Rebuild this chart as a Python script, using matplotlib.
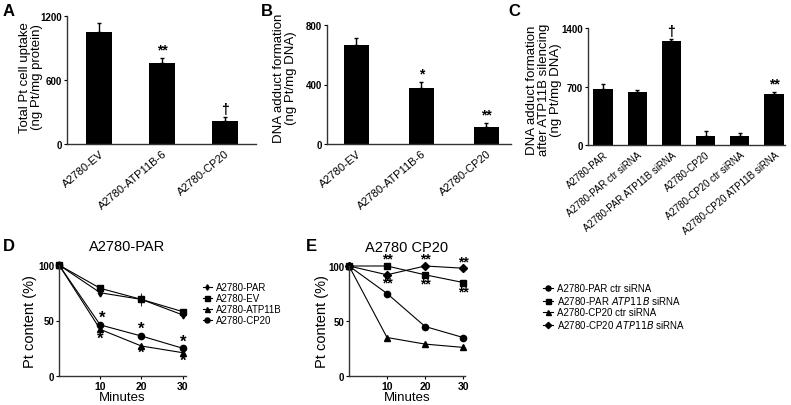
import matplotlib
matplotlib.use("Agg")
import matplotlib.pyplot as plt
import numpy as np

plt.rcParams["font.family"] = ["Liberation Sans", "DejaVu Sans"]

W, H = 791, 406

# panel A
a_labels = ["A2780-EV", "A2780-ATP11B-6", "A2780-CP20"]
a_vals = [1050, 760, 215]
a_err = [80, 46, 38]
a_marks = ["", "**", "\u2020"]

# panel B
b_labels = ["A2780-EV", "A2780-ATP11B-6", "A2780-CP20"]
b_vals = [665, 376, 114]
b_err = [47, 41, 27]
b_marks = ["", "*", "**"]

# panel C
c_labels = ["A2780-PAR", "A2780-PAR ctr siRNA", "A2780-PAR ATP11B siRNA",
            "A2780-CP20", "A2780-CP20 ctr siRNA", "A2780-CP20 ATP11B siRNA"]
c_vals = [670, 634, 1244, 108, 108, 610]
c_err = [60, 24, 24, 60, 36, 24]
c_marks = ["", "", "\u2020", "", "", "**"]

# panel D
minutes = [0, 10, 20, 30]
d_names = ["A2780-PAR", "A2780-EV", "A2780-ATP11B", "A2780-CP20"]
d_par = [100, 75, 69, 55]
d_ev = [100, 79, 69, 58]
d_atp = [100, 42, 27, 21]
d_cp20 = [100, 46, 36, 25]
d_star_x = [10.5, 10, 20, 20, 30, 30]
d_star_y = [53, 34, 43, 21, 31, 14]

# panel E
e_names = ["A2780-PAR ctr siRNA", "A2780-PAR $\\it{ATP11B}$ siRNA",
           "A2780-CP20 ctr siRNA", "A2780-CP20 $\\it{ATP11B}$ siRNA"]
e_par_ctr = [100, 75, 45, 35]
e_par_si = [100, 100, 92, 85]
e_cp_ctr = [100, 35, 29, 26]
e_cp_si = [100, 92, 100, 98]
e_star_x = [10, 10, 20, 20, 30, 30]
e_star_y = [107, 85, 107, 84, 104, 77]


def box(l, r, t, b):
    return [l / W, (H - b) / H, (r - l) / W, (b - t) / H]


def style(ax):
    for s in ["top", "right"]:
        ax.spines[s].set_visible(False)
    for s in ["left", "bottom"]:
        ax.spines[s].set_linewidth(1.0)
        ax.spines[s].set_color("#333333")
    ax.tick_params(axis="y", labelsize=7, length=2.5, width=0.8, pad=1)
    for t in ax.get_yticklabels():
        t.set_fontweight("bold")


def bars(ax, labels, vals, err, marks, ymax, step, xlim, width, rot_size, ylabel, lpos, lsize):
    x = np.arange(len(vals))
    ax.bar(x, vals, width=width, color="black")
    ax.errorbar(x, vals, yerr=[np.zeros(len(err)), err], fmt="none",
                ecolor="black", elinewidth=1, capsize=1.5, capthick=1)
    for xi, v, e, m in zip(x, vals, err, marks):
        if m:
            ax.text(xi, v + e + ymax * 0.01, m, ha="center", va="bottom",
                    fontsize=10, fontweight="bold")
    ax.set_xlim(*xlim)
    ax.set_ylim(0, ymax)
    ax.set_yticks(np.arange(0, ymax + 1, step))
    ax.set_xticks(x)
    ax.set_xticklabels(labels, rotation=40, ha="right", rotation_mode="anchor",
                       fontsize=rot_size)
    ax.tick_params(axis="x", length=0, pad=3)
    ax.set_ylabel(ylabel, fontsize=lsize, linespacing=1.0)
    ax.yaxis.set_label_coords(*lpos)
    style(ax)


fig = plt.figure(figsize=(W / 100, H / 100), dpi=100)

axA = fig.add_axes(box(67, 256, 17, 145))
bars(axA, a_labels, a_vals, a_err, a_marks, 1200, 600, (-0.51, 2.49), 0.41, 8,
     "Total Pt cell uptake\n(ng Pt/mg protein)", (-0.125, 0.53), 9.5)

axB = fig.add_axes(box(327, 511, 26, 145))
bars(axB, b_labels, b_vals, b_err, b_marks, 800, 400, (-0.45, 2.38), 0.38, 8,
     "DNA adduct formation\n(ng Pt/mg DNA)", (-0.165, 0.56), 9.5)

axC = fig.add_axes(box(588, 785, 29, 146))
bars(axC, c_labels, c_vals, c_err, c_marks, 1400, 700, (-0.44, 5.32), 0.56, 7,
     "DNA adduct formation\nafter ATP11B silencing\n(ng Pt/mg DNA)", (-0.13, 0.48), 9.5)

lw = 0.8
axD = fig.add_axes(box(59, 186, 266, 377))
axD.plot(minutes, d_par, marker="d", ms=3.5, color="black", lw=lw, label=d_names[0], clip_on=False)
axD.plot(minutes, d_ev, marker="s", ms=4.5, color="black", lw=lw, label=d_names[1], clip_on=False)
axD.plot(minutes, d_atp, marker="^", ms=4.5, color="black", lw=lw, label=d_names[2], clip_on=False)
axD.plot(minutes, d_cp20, marker="o", ms=4.5, color="black", lw=lw, label=d_names[3], clip_on=False)
axD.errorbar(minutes[1:3], [d_par[1], d_par[2]], yerr=[3, 6], fmt="none",
             ecolor="black", elinewidth=0.6, capsize=0)
for sx, sy in zip(d_star_x, d_star_y):
    axD.text(sx, sy, "*", ha="center", va="center", fontsize=12, fontweight="bold")
axD.set_title("A2780-PAR", fontsize=10.5, pad=11, x=0.54)

axE = fig.add_axes(box(349, 465, 267, 377))
axE.plot(minutes, e_par_ctr, marker="o", ms=4.5, color="black", lw=lw, label=e_names[0], clip_on=False)
axE.plot(minutes, e_par_si, marker="s", ms=4.5, color="black", lw=lw, label=e_names[1], clip_on=False)
axE.plot(minutes, e_cp_ctr, marker="^", ms=4.5, color="black", lw=lw, label=e_names[2], clip_on=False)
axE.plot(minutes, e_cp_si, marker="D", ms=4, color="black", lw=lw, label=e_names[3], clip_on=False)
for sx, sy in zip(e_star_x, e_star_y):
    axE.text(sx, sy, "**", ha="center", va="center", fontsize=10, fontweight="bold")
axE.set_title("A2780 CP20", fontsize=10.5, pad=11)

for ax, xmax, legx, lx in [(axD, 30.8, 1.1, -0.17), (axE, 30.5, 1.64, -0.17)]:
    ax.set_xlim(0, xmax)
    ax.set_ylim(0, 100)
    ax.set_xticks([10, 20, 30])
    ax.set_yticks([0, 50, 100])
    ax.tick_params(axis="x", labelsize=7.5, length=2.5, width=0.8, pad=1)
    for t in ax.get_xticklabels():
        t.set_fontweight("bold")
    ax.set_xlabel("Minutes", fontsize=9.5, labelpad=0)
    ax.set_ylabel("Pt content (%)", fontsize=10.5)
    ax.yaxis.set_label_coords(lx, 0.5)
    style(ax)
    ax.legend(loc="upper left", bbox_to_anchor=(legx, 0.88), frameon=False,
              fontsize=7, handlelength=1.0, handletextpad=0.4,
              labelspacing=0.1, borderaxespad=0, markerscale=0.8)

# panel letters
for txt, x, y in [("A", 3, 12), ("B", 261, 12), ("C", 508, 12), ("D", 3, 247), ("E", 306, 247)]:
    fig.text(x / W, 1 - y / H, txt, fontsize=12, fontweight="bold", va="center")

fig.savefig("out.png", dpi=100)
